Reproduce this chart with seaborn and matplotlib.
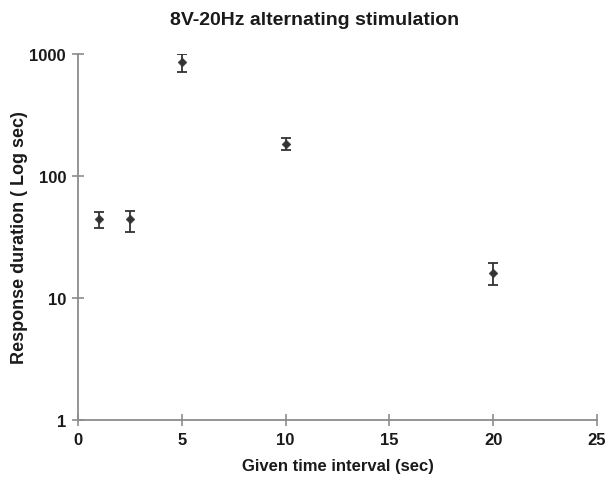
import numpy as np
import pandas as pd
import matplotlib
matplotlib.use("Agg")
import matplotlib.pyplot as plt
import seaborn as sns

# Data
interval_sec = [1, 2.5, 5, 10, 20]
response_sec = [44, 44, 855, 183, 16]
err_low = [6.5, 9, 150, 20, 3.2]
err_high = [7, 8, 145, 22, 3.2]

sns.set_theme(style="white")
plt.rcParams['font.family'] = ['Liberation Sans Narrow', 'Liberation Sans', 'DejaVu Sans']

df = pd.DataFrame({'interval': interval_sec, 'response': response_sec})

fig = plt.figure(figsize=(6.08, 4.85), dpi=100)
ax = fig.add_axes([0.128, 0.132, 0.854, 0.755])

ax.errorbar(df['interval'], df['response'], yerr=[err_low, err_high],
            fmt='none', ecolor='#333333', elinewidth=1.3, capsize=3.5, capthick=1.3, zorder=2)
sns.scatterplot(data=df, x='interval', y='response', ax=ax, marker='D', s=20,
                color='#333333', edgecolor='#333333', zorder=3, legend=False)

ax.set_yscale('log')
ax.set_xlim(0, 25)
ax.set_ylim(1, 1000)
ax.set_xticks([0, 5, 10, 15, 20, 25])
ax.set_yticks([1, 10, 100, 1000])
ax.set_yticklabels(['1', '10', '100', '1000'])
ax.minorticks_off()

for side in ['top', 'right']:
    ax.spines[side].set_visible(False)
for side in ['left', 'bottom']:
    ax.spines[side].set_color('#8c8c8c')
    ax.spines[side].set_linewidth(1.3)

ax.tick_params(axis='both', which='major', bottom=True, left=True, direction='inout',
               length=9, width=1.2, color='#8c8c8c',
               labelsize=12, labelcolor='#1a1a1a', pad=4)
for lbl in ax.get_xticklabels() + ax.get_yticklabels():
    lbl.set_fontweight('bold')

ax.set_xlabel('Given time interval (sec)', fontsize=12, fontweight='bold', color='#1a1a1a', labelpad=8)
ax.set_ylabel('Response duration ( Log sec)', fontsize=13, fontweight='bold', color='#1a1a1a', labelpad=1)
fig.suptitle('8V-20Hz alternating stimulation', x=0.518, y=0.975, fontsize=14,
             fontweight='bold', color='#1a1a1a')

fig.savefig('out.png', dpi=100, facecolor='white')
